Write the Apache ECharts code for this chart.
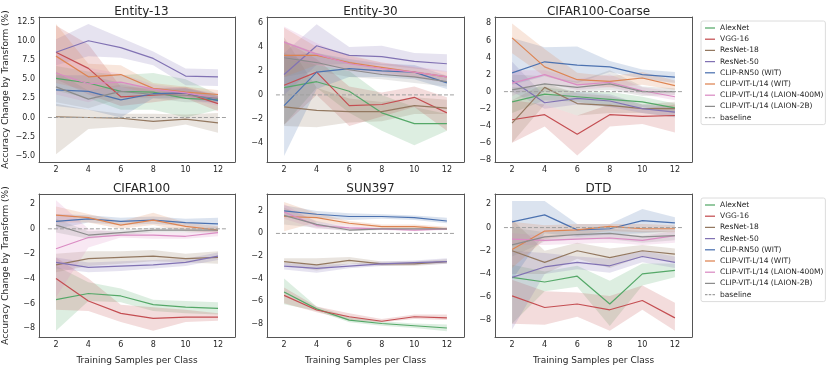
<!DOCTYPE html>
<html>
<head>
<meta charset="utf-8">
<script src="https://cdn.jsdelivr.net/npm/echarts@6/dist/echarts.min.js"></script>
<style>
  html, body { margin: 0; padding: 0; background: #fff; }
  #chart { width: 830px; height: 366px; }
</style>
</head>
<body>
<div id="chart"></div>
<script>
// model order: AlexNet, VGG-16, ResNet-18, ResNet-50, CLIP-RN50, VIT (WIT), VIT (400M), VIT (2B)
const models = ['AlexNet', 'VGG-16', 'ResNet-18', 'ResNet-50', 'CLIP-RN50 (WIT)',
  'CLIP-VIT-L/14 (WIT)', 'CLIP-VIT-L/14 (LAION-400M)', 'CLIP-VIT-L/14 (LAION-2B)']
const samples = [2, 4, 6, 8, 10, 12]
const titles = ['Entity-13', 'Entity-30', 'CIFAR100-Coarse', 'CIFAR100', 'SUN397', 'DTD']

const entity13Mean = [
  [5.1, 4.5, 3.4, 3.3, 2.5, 2.3],
  [8.5, 6.4, 2.7, 2.9, 3.2, 1.8],
  [0.1, 0.0, -0.1, -0.5, -0.2, -0.7],
  [8.5, 10.0, 9.1, 7.7, 5.4, 5.3],
  [3.6, 3.4, 2.3, 3.1, 3.2, 2.2],
  [8.0, 5.3, 5.6, 3.8, 3.3, 3.0],
  [5.8, 4.4, 4.6, 3.7, 3.2, 2.5],
  [4.0, 2.4, 3.4, 3.0, 2.9, 2.5]
]
const entity13Lo = [
  [3.5, 2.5, 1.0, 1.0, 0.0, 1.0],
  [5.0, 3.0, 1.5, 2.0, 2.5, 0.8],
  [-4.8, -1.5, -1.2, -1.6, -0.9, -2.0],
  [6.8, 8.0, 7.8, 6.8, 4.2, 4.1],
  [1.5, 1.0, 0.0, 2.5, 2.5, 1.8],
  [4.5, 3.5, 4.0, 3.0, 2.6, 2.3],
  [3.0, 2.0, 3.5, 3.0, 2.5, 1.5],
  [2.0, 1.2, 2.5, 2.5, 2.0, 2.0]
]
const entity13Hi = [
  [6.7, 6.0, 5.5, 5.8, 5.0, 3.0],
  [12.0, 9.5, 4.0, 3.8, 4.0, 2.8],
  [1.8, 1.0, 0.5, 0.5, 0.4, 0.6],
  [10.2, 12.2, 10.4, 8.6, 6.4, 6.3],
  [5.5, 5.5, 4.5, 3.8, 3.8, 2.8],
  [12.2, 7.0, 6.8, 4.5, 4.0, 3.6],
  [8.5, 6.5, 5.7, 4.3, 3.8, 3.2],
  [6.0, 3.5, 4.3, 3.5, 3.8, 3.0]
]

const entity30Mean = [
  [0.6, 1.1, 0.3, -1.5, -2.4, -2.4],
  [0.8, 1.9, -0.9, -0.8, -0.2, -1.5],
  [-1.0, -1.3, -1.4, -1.4, -0.9, -1.1],
  [1.7, 4.1, 3.3, 3.2, 2.8, 2.6],
  [-0.9, 1.9, 2.2, 2.0, 1.9, 1.0],
  [3.3, 3.3, 2.7, 2.3, 1.9, 1.5],
  [4.4, 3.4, 2.6, 2.2, 1.9, 1.5],
  [3.1, 2.7, 2.1, 1.7, 1.5, 1.1]
]
const entity30Lo = [
  [-2.5, 0.6, -1.5, -3.0, -4.2, -3.0],
  [-2.5, 0.0, -2.6, -1.8, -1.0, -3.0],
  [-2.6, -2.7, -2.3, -2.2, -1.6, -1.6],
  [0.0, 2.5, 2.6, 2.5, 2.2, 1.9],
  [-5.1, 0.5, 1.5, 1.5, 1.3, 0.5],
  [1.5, 2.5, 2.2, 1.9, 1.5, 1.2],
  [3.0, 2.5, 2.0, 1.7, 1.4, 1.0],
  [1.5, 2.0, 1.5, 1.3, 1.0, 0.7]
]
const entity30Hi = [
  [3.5, 2.5, 2.0, 0.0, -1.0, -1.6],
  [4.5, 3.0, 0.7, 0.2, 0.7, -0.2],
  [4.8, 0.6, -0.3, -0.6, -0.2, -0.4],
  [3.5, 5.9, 4.0, 4.1, 3.5, 3.4],
  [3.3, 3.5, 3.0, 2.6, 2.5, 1.6],
  [5.6, 4.0, 3.3, 2.7, 2.3, 1.9],
  [5.7, 4.3, 3.2, 2.7, 2.4, 2.0],
  [4.5, 3.5, 2.8, 2.1, 2.0, 1.6]
]

const coarseMean = [
  [-1.2, -0.3, -0.6, -0.9, -1.2, -1.9],
  [-3.3, -2.7, -5.0, -2.7, -2.9, -2.8],
  [-3.7, 0.5, -1.4, -1.6, -2.0, -2.0],
  [1.3, -1.3, -0.8, -1.1, -2.0, -2.4],
  [2.2, 3.5, 3.1, 2.9, 2.0, 1.7],
  [6.3, 2.9, 1.4, 1.2, 1.6, 0.7],
  [1.0, 2.0, 0.8, 1.1, 0.1, -0.6],
  [0.2, 0.9, 0.5, 0.9, 0.0, 0.0]
]
const coarseLo = [
  [-2.5, -1.0, -1.2, -1.8, -1.8, -2.5],
  [-6.0, -4.1, -7.5, -4.1, -3.8, -4.8],
  [-6.0, -1.5, -2.8, -2.5, -2.5, -3.0],
  [0.0, -2.0, -1.5, -1.8, -2.5, -3.0],
  [0.8, 1.8, 1.0, 2.3, 1.5, 1.0],
  [4.5, 1.8, 0.8, 0.5, 0.8, 0.2],
  [-0.5, 1.0, 0.2, 0.5, -0.3, -1.0],
  [-1.0, 0.0, 0.0, 0.2, -0.5, -0.4]
]
const coarseHi = [
  [0.5, 0.5, 0.0, 0.0, -0.6, -1.4],
  [-1.0, -1.5, -2.8, -1.5, -2.0, -1.5],
  [-1.0, 1.0, -0.2, -0.5, -1.5, -1.2],
  [3.5, -0.5, 0.0, -0.3, -1.5, -1.8],
  [6.3, 5.2, 5.3, 3.6, 2.6, 2.3],
  [8.0, 5.0, 2.2, 1.8, 2.3, 1.3],
  [2.5, 2.5, 1.5, 2.0, 0.5, 0.0],
  [2.0, 1.8, 1.2, 2.5, 0.6, 0.4]
]

const cifarMean = [
  [-5.7, -5.2, -5.4, -6.1, -6.3, -6.4],
  [-4.0, -5.8, -6.8, -7.2, -7.1, -7.1],
  [-2.9, -2.4, -2.3, -2.2, -2.4, -2.3],
  [-2.7, -3.1, -3.0, -2.9, -2.7, -2.2],
  [0.6, 0.8, 0.6, 0.7, 0.5, 0.4],
  [1.1, 0.9, 0.3, 0.7, 0.2, -0.1],
  [-1.6, -0.7, -0.5, -0.5, -0.6, -0.3],
  [0.3, -0.5, -0.3, -0.1, -0.1, -0.1]
]
const cifarLo = [
  [-8.2, -5.8, -5.9, -6.6, -6.8, -6.9],
  [-6.5, -6.6, -7.5, -8.2, -7.5, -7.4],
  [-3.5, -3.0, -2.8, -2.6, -2.7, -2.8],
  [-3.2, -3.5, -3.4, -3.2, -3.0, -2.5],
  [0.0, 0.5, 0.3, 0.4, 0.2, 0.0],
  [0.5, 0.5, 0.0, 0.3, -0.2, -0.3],
  [-5.5, -1.5, -0.7, -0.8, -0.8, -0.6],
  [-0.3, -0.8, -0.5, -0.3, -0.3, -0.3]
]
const cifarHi = [
  [-3.0, -4.3, -4.8, -5.7, -5.8, -5.9],
  [-2.3, -4.0, -6.1, -6.3, -6.5, -6.8],
  [-2.0, -1.8, -1.8, -1.7, -2.0, -1.8],
  [-2.3, -2.7, -2.6, -2.5, -2.4, -1.9],
  [1.2, 1.1, 0.9, 1.0, 0.8, 0.9],
  [1.8, 1.2, 0.6, 1.3, 0.5, 0.2],
  [2.3, 0.0, -0.3, -0.3, -0.3, -0.1],
  [0.8, -0.2, -0.1, 0.1, 0.1, 0.1]
]

const sunMean = [
  [-5.2, -6.7, -7.7, -8.0, -8.2, -8.4],
  [-5.5, -6.8, -7.4, -7.8, -7.4, -7.5],
  [-2.5, -2.8, -2.4, -2.7, -2.7, -2.5],
  [-2.9, -3.1, -2.9, -2.7, -2.6, -2.5],
  [2.0, 1.7, 1.5, 1.5, 1.4, 1.1],
  [1.5, 1.4, 0.9, 0.6, 0.6, 0.4],
  [1.9, 0.7, 0.5, 0.4, 0.3, 0.4],
  [1.6, 0.8, 0.3, 0.4, 0.4, 0.4]
]
const sunLo = [
  [-6.3, -6.9, -7.9, -8.2, -8.4, -8.7],
  [-6.2, -7.0, -7.7, -7.9, -7.6, -7.7],
  [-2.8, -3.3, -2.7, -2.9, -2.9, -2.7],
  [-3.2, -3.5, -3.1, -2.9, -2.8, -2.7],
  [1.5, 1.4, 1.2, 1.3, 1.2, 0.9],
  [0.2, 1.0, 0.7, 0.5, 0.4, 0.3],
  [1.3, 0.4, 0.3, 0.3, 0.2, 0.3],
  [0.8, 0.5, 0.2, 0.3, 0.3, 0.3]
]
const sunHi = [
  [-4.0, -6.5, -7.4, -7.8, -8.0, -8.1],
  [-4.8, -6.5, -7.1, -7.6, -7.2, -7.2],
  [-2.2, -2.2, -2.1, -2.5, -2.5, -2.3],
  [-2.6, -2.8, -2.7, -2.5, -2.4, -2.2],
  [2.5, 2.0, 1.8, 1.7, 1.6, 1.4],
  [2.8, 1.8, 1.1, 0.8, 0.8, 0.6],
  [2.6, 1.0, 0.7, 0.5, 0.4, 0.5],
  [2.3, 1.1, 0.5, 0.5, 0.5, 0.5]
]

const dtdMean = [
  [-4.3, -4.7, -4.2, -6.6, -4.0, -3.7],
  [-5.9, -6.9, -6.6, -7.1, -6.3, -7.8],
  [-2.0, -3.0, -2.0, -2.6, -2.0, -2.3],
  [-4.3, -3.4, -3.0, -3.3, -2.5, -3.0],
  [0.5, 1.1, -0.2, -0.1, 0.6, 0.4],
  [-1.9, -0.3, -0.2, 0.1, -0.1, -0.1],
  [-1.0, -1.1, -1.0, -0.9, -1.1, -0.7],
  [-1.5, -0.8, -0.6, -0.5, -0.8, -0.7]
]
const dtdLo = [
  [-8.3, -5.5, -5.1, -8.5, -5.0, -4.3],
  [-8.3, -8.4, -7.7, -8.9, -7.1, -8.9],
  [-4.0, -4.0, -2.7, -3.5, -2.5, -3.0],
  [-8.8, -4.0, -3.6, -3.9, -3.0, -3.5],
  [-4.5, -0.5, -0.8, -0.6, -0.5, -0.3],
  [-3.5, -1.0, -0.6, -0.3, -0.4, -0.4],
  [-1.5, -1.5, -1.4, -1.3, -1.5, -1.3],
  [-2.5, -1.2, -1.0, -1.0, -1.3, -1.1]
]
const dtdHi = [
  [-3.2, -3.8, -3.3, -4.6, -3.1, -3.1],
  [-4.5, -5.5, -5.6, -5.9, -5.0, -6.5],
  [0.7, -2.0, -1.3, -1.8, -1.5, -1.8],
  [-2.0, -2.2, -2.5, -2.7, -2.0, -2.5],
  [2.3, 2.3, 0.3, 0.3, 1.6, 0.9],
  [0.5, 0.2, 0.3, 0.3, 0.3, 0.2],
  [-0.5, -0.7, -0.6, -0.5, -0.7, -0.3],
  [0.0, -0.4, -0.2, -0.1, -0.3, -0.3]
]

const xTicks = [2, 4, 6, 8, 10, 12]
const entity13Ticks = [-5, -2.5, 0, 2.5, 5, 7.5, 10, 12.5]
const entity30Ticks = [-4, -2, 0, 2, 4, 6]
const coarseTicks = [-8, -6, -4, -2, 0, 2, 4, 6, 8]
const lowerTicks = [-8, -6, -4, -2, 0, 2]
const baselineX = [1.5, 12.5]

const colors = ['#55a868', '#c44e52', '#937860', '#8172b3', '#4c72b0', '#dd8452', '#da8bc3', '#8c8c8c']
const font = 'DejaVu Sans'
const ink = '#262626'
const spine = '#555'

const panels = [
  { mean: entity13Mean, lo: entity13Lo, hi: entity13Hi, ticks: entity13Ticks, min: -5.8, max: 13.1, dec: 1 },
  { mean: entity30Mean, lo: entity30Lo, hi: entity30Hi, ticks: entity30Ticks, min: -5.6, max: 6.5, dec: 0 },
  { mean: coarseMean, lo: coarseLo, hi: coarseHi, ticks: coarseTicks, min: -8.25, max: 8.75, dec: 0 },
  { mean: cifarMean, lo: cifarLo, hi: cifarHi, ticks: lowerTicks, min: -8.7, max: 2.8, dec: 0 },
  { mean: sunMean, lo: sunLo, hi: sunHi, ticks: lowerTicks, min: -9.2, max: 3.5, dec: 0 },
  { mean: dtdMean, lo: dtdLo, hi: dtdHi, ticks: lowerTicks, min: -9.45, max: 2.9, dec: 0 }
]

const lefts = [38, 267, 495]
const tops = [17, 194]
const boxW = 197
const boxH = 145

const chart = echarts.init(document.getElementById('chart'))

// one polygon per band: drawn on the first item, reading every row through api.value / api.coord
function bandItem(color) {
  return function (params, api) {
    if (params.dataIndexInside !== 0) return
    const n = params.dataInsideLength
    const upper = [], lower = []
    for (let j = 0; j < n; j++) {
      const x = api.value(0, j)
      upper.push(api.coord([x, api.value(2, j)]))
      lower.unshift(api.coord([x, api.value(1, j)]))
    }
    return {
      type: 'polygon',
      shape: { points: upper.concat(lower) },
      style: { fill: color, opacity: 0.2 },
      silent: true
    }
  }
}

const grid = [], xAxis = [], yAxis = [], title = [], series = []
const frameX = [], frameY = []

panels.forEach((p, k) => {
  const col = k % 3, row = Math.floor(k / 3)
  grid.push({ left: lefts[col], top: tops[row], width: boxW, height: boxH })
  title.push({
    text: titles[k], left: lefts[col] + boxW / 2, top: tops[row] - 16, textAlign: 'center',
    textStyle: { fontFamily: font, fontSize: 12, fontWeight: 'normal', color: ink }
  })
  xAxis.push({
    type: 'value', gridIndex: k, min: 0.95, max: 13.05, position: 'bottom',
    name: row === 1 ? 'Training Samples per Class' : '',
    nameLocation: 'middle', nameGap: 19,
    nameTextStyle: { fontFamily: font, fontSize: 9, color: ink },
    axisLine: { show: true, onZero: false, lineStyle: { color: spine, width: 1 } },
    axisTick: { show: false }, splitLine: { show: false },
    axisLabel: { customValues: xTicks, fontFamily: font, fontSize: 8, color: ink, margin: 4 }
  })
  yAxis.push({
    type: 'value', gridIndex: k, min: p.min, max: p.max, position: 'left',
    name: col === 0 ? 'Accuracy Change by Transform (%)' : '',
    nameLocation: 'middle', nameGap: 29,
    nameTextStyle: { fontFamily: font, fontSize: 9, color: ink },
    axisLine: { show: true, onZero: false, lineStyle: { color: spine, width: 1 } },
    axisTick: { show: false }, splitLine: { show: false },
    axisLabel: {
      customValues: p.ticks, fontFamily: font, fontSize: 8, color: ink, margin: 4,
      formatter: v => v.toFixed(p.dec).replace('-', '\u2212')
    }
  })
  // top and right spines of the box
  frameX.push({
    type: 'value', gridIndex: k, min: 0.95, max: 13.05, position: 'top',
    axisLine: { show: true, onZero: false, lineStyle: { color: spine, width: 1 } },
    axisTick: { show: false }, axisLabel: { show: false }, splitLine: { show: false }
  })
  frameY.push({
    type: 'value', gridIndex: k, min: p.min, max: p.max, position: 'right',
    axisLine: { show: true, onZero: false, lineStyle: { color: spine, width: 1 } },
    axisTick: { show: false }, axisLabel: { show: false }, splitLine: { show: false }
  })

  models.forEach((m, i) => {
    series.push({
      type: 'custom', name: m + ' band', xAxisIndex: k, yAxisIndex: k,
      silent: true, z: 1, clip: true,
      encode: { x: 0, y: [1, 2] },
      renderItem: bandItem(colors[i]),
      data: samples.map((x, j) => [x, p.lo[i][j], p.hi[i][j]])
    })
  })
  models.forEach((m, i) => {
    series.push({
      type: 'line', name: m, xAxisIndex: k, yAxisIndex: k,
      symbol: 'none', z: 3,
      lineStyle: { color: colors[i], width: 1.2 },
      itemStyle: { color: colors[i] },
      data: samples.map((x, j) => [x, p.mean[i][j]])
    })
  })
  series.push({
    type: 'line', name: 'baseline', xAxisIndex: k, yAxisIndex: k,
    symbol: 'none', z: 4,
    lineStyle: { color: '#a0a0a0', width: 1, type: [4, 2] },
    itemStyle: { color: '#a0a0a0' },
    data: baselineX.map(x => [x, 0])
  })
})

const lineIcon = 'path://M0,0 H12 V1.5 H0 Z'
const dashIcon = 'path://M0,0 H3 V1.5 H0 Z M4.5,0 H7.5 V1.5 H4.5 Z M9,0 H12 V1.5 H9 Z'
const legendNames = models.map(m => ({ name: m, icon: lineIcon }))
  .concat([{ name: 'baseline', icon: dashIcon }])
const legendBase = {
  orient: 'vertical', left: 701, data: legendNames,
  itemWidth: 10, itemHeight: 8, itemGap: 3.2,
  padding: [3, 2, 3, 4],
  borderColor: '#dcdcdc', borderWidth: 1, borderRadius: 2, backgroundColor: '#fff',
  selectedMode: false,
  textStyle: { fontFamily: font, fontSize: 7.5, color: ink }
}

chart.setOption({
  animation: false,
  backgroundColor: '#fff',
  title,
  grid,
  xAxis: xAxis.concat(frameX),
  yAxis: yAxis.concat(frameY),
  legend: [
    Object.assign({}, legendBase, { top: 21 }),
    Object.assign({}, legendBase, { top: 198 })
  ],
  series
})
</script>
</body>
</html>
